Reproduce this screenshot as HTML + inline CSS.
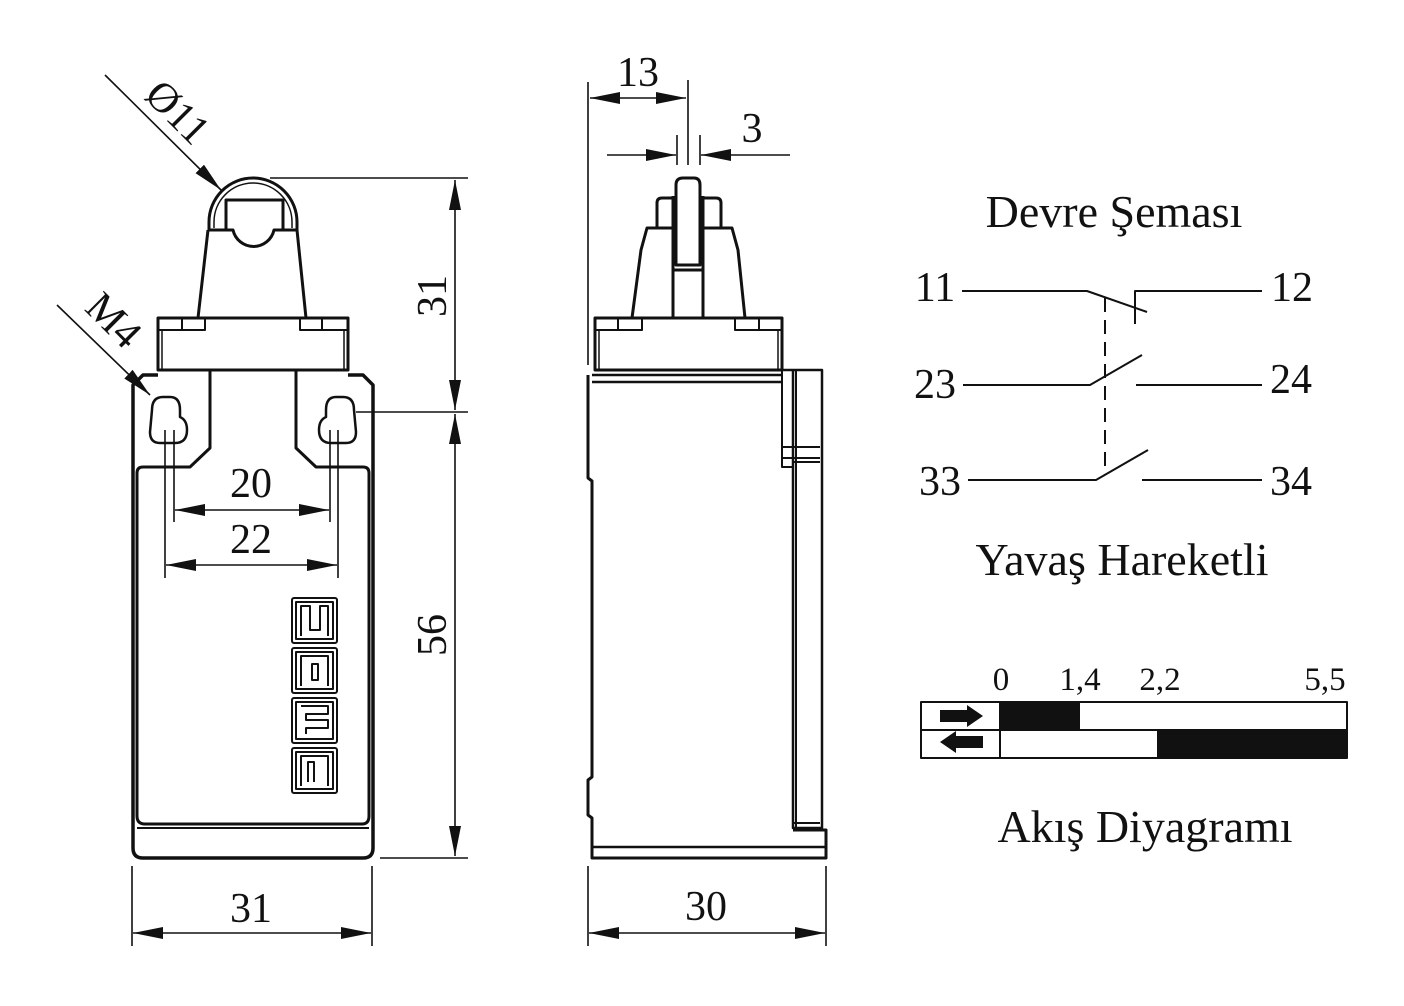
<!DOCTYPE html>
<html><head><meta charset="utf-8"><style>
html,body{margin:0;padding:0;background:#fff}
svg{display:block}
text{font-family:"Liberation Serif",serif;fill:#111}
</style></head><body>
<svg width="1404" height="1006" viewBox="0 0 1404 1006" xmlns="http://www.w3.org/2000/svg">
<defs>
<marker id="ar" viewBox="0 0 30 12" refX="30" refY="6" markerWidth="30" markerHeight="12" markerUnits="userSpaceOnUse" orient="auto-start-reverse">
<path d="M0,0 L30,6 L0,12 Z" fill="#111"/></marker>
</defs>
<g fill="none" stroke="#111" stroke-linejoin="round">
<g stroke-width="3">
<path d="M209,230 L209,222 A44,44 0 0 1 297,222 L297,230"/>
<path d="M214,228 L214,222 A39,39 0 0 1 292,222 L292,228" stroke-width="1.5"/>
<path d="M226,230 L226,200 L283,200 L283,230"/>
<path d="M208,230 L233,230 A21,21 0 0 0 274,230 L297,230"/>
<path d="M208,230 L198,318 M297,230 L306,318"/>
<rect x="158" y="318" width="190" height="52"/>
<path d="M158,330 L205,330 L205,318 M182,318 L182,330 M348,330 L300,330 L300,318 M322,318 L322,330" stroke-width="2"/>
<line x1="162" y1="330" x2="162" y2="370" stroke-width="1.5"/>
<line x1="344" y1="330" x2="344" y2="370" stroke-width="1.5"/>
<path d="M158,375 L143,375 L133,385 L133,848 Q133,858 143,858 L363,858 Q373,858 373,848 L373,385 L363,375 L348,375" stroke-width="3.5"/>
<path d="M210,370 L210,448 L190,467 L143,467 Q137,467 137,473 L137,816 Q137,824 145,824 L362,824 Q369,824 369,816 L369,473 Q369,467 363,467 L316,467 L296,448 L296,370" stroke-width="3"/>
<path d="M137,828 L369,828" stroke-width="2"/>
<path d="M152,410 Q152,397 163,397 L170,397 Q180,397 180,410 L180,417 Q187,420 187,430 Q187,443 175,443 L160,443 Q150,443 150,432 Z" stroke-width="2.5"/>
<path d="M354,410 Q354,397 343,397 L336,397 Q326,397 326,410 L326,417 Q319,420 319,430 Q319,443 331,443 L346,443 Q356,443 356,432 Z" stroke-width="2.5"/>
</g>
<g stroke-width="2">
<rect x="292" y="598" width="45" height="45" rx="2"/><rect x="296" y="602" width="37" height="37"/>
<path d="M301,636 L301,606 L310,606 L310,630 L320,630 L320,606 L328,606 L328,636" />
<rect x="292" y="648" width="45" height="45" rx="2"/><rect x="296" y="652" width="37" height="37"/>
<path d="M301,686 L301,656 L328,656 L328,686 M312,680 L312,664 L318,664 L318,680 Z"/>
<rect x="292" y="698" width="45" height="45" rx="2"/><rect x="296" y="702" width="37" height="37"/>
<path d="M301,706 L328,706 L328,714 L306,714 L306,720 L328,720 L328,728 L306,728 L306,734"/>
<rect x="292" y="748" width="45" height="45" rx="2"/><rect x="296" y="752" width="37" height="37"/>
<path d="M301,786 L301,756 L328,756 L328,786 M308,782 L308,762 L314,762 L314,782"/>
</g>
<g stroke-width="1.6">
<line x1="270" y1="178" x2="468" y2="178"/>
<line x1="356" y1="412" x2="468" y2="412"/>
<line x1="380" y1="858" x2="468" y2="858"/>
<line x1="455" y1="180" x2="455" y2="410" marker-start="url(#ar)" marker-end="url(#ar)"/>
<line x1="455" y1="414" x2="455" y2="856" marker-start="url(#ar)" marker-end="url(#ar)"/>
<line x1="165" y1="430" x2="165" y2="578"/><line x1="174" y1="430" x2="174" y2="522"/>
<line x1="330" y1="430" x2="330" y2="522"/><line x1="338" y1="430" x2="338" y2="578"/>
<line x1="175" y1="510" x2="329" y2="510" marker-start="url(#ar)" marker-end="url(#ar)"/>
<line x1="166" y1="565" x2="337" y2="565" marker-start="url(#ar)" marker-end="url(#ar)"/>
<line x1="132" y1="866" x2="132" y2="946"/><line x1="372" y1="866" x2="372" y2="946"/>
<line x1="133" y1="933" x2="371" y2="933" marker-start="url(#ar)" marker-end="url(#ar)"/>
<line x1="105" y1="75" x2="221" y2="190" marker-end="url(#ar)"/>
<line x1="57" y1="305" x2="150" y2="395" marker-end="url(#ar)"/>
</g>
<g stroke-width="3">
<path d="M676,265 L676,185 Q676,178 683,178 L694,178 Q700,178 700,185 L700,265 Z"/>
<path d="M673,318 L673,196 M703,318 L703,196 M673,270 L703,270"/>
<path d="M657,228 L657,203 Q657,198 662,198 L673,198 M703,198 L716,198 Q721,198 721,203 L721,228"/>
<path d="M673,228 L647,228 L641,250 L632,318 M703,228 L732,228 L738,250 L745,318"/>
<rect x="595" y="318" width="187" height="52"/>
<path d="M595,330 L642,330 L642,318 M618,318 L618,330 M782,330 L735,330 L735,318 M759,318 L759,330" stroke-width="2"/>
<line x1="599" y1="330" x2="599" y2="370" stroke-width="1.5"/><line x1="778" y1="330" x2="778" y2="370" stroke-width="1.5"/>
<path d="M592,375 L782,375 M592,382 L782,382" stroke-width="2.5"/>
<path d="M588,375 L588,478 L592,481 L592,777 L588,780 L588,815 L592,818 L592,858 L826,858 L826,830 L793,830"/>
<path d="M592,847 L826,847" stroke-width="2.5"/>
<path d="M782,370 L822,370 L822,828 L793,828 L793,370" stroke-width="2.5"/>
<path d="M782,370 L782,467 L793,467 M782,447 L820,447 M782,458 L820,458 M793,462 L820,462 M796,370 L796,828 M793,823 L820,823" stroke-width="2"/>
</g>
<g stroke-width="1.6">
<line x1="588" y1="82" x2="588" y2="365"/>
<line x1="688" y1="80" x2="688" y2="165"/>
<line x1="590" y1="98" x2="686" y2="98" marker-start="url(#ar)" marker-end="url(#ar)"/>
<line x1="677" y1="135" x2="677" y2="165"/><line x1="700" y1="135" x2="700" y2="165"/>
<line x1="607" y1="155" x2="676" y2="155" marker-end="url(#ar)"/>
<line x1="790" y1="155" x2="701" y2="155" marker-end="url(#ar)"/>
<line x1="588" y1="866" x2="588" y2="946"/><line x1="826" y1="866" x2="826" y2="946"/>
<line x1="589" y1="933" x2="825" y2="933" marker-start="url(#ar)" marker-end="url(#ar)"/>
</g>
<g stroke-width="2">
<path d="M962,291 L1087,291 L1147,312"/>
<path d="M1135,324 L1135,291 L1262,291"/>
<path d="M963,385 L1090,385 L1142,355 M1136,385 L1262,385"/>
<path d="M968,480 L1096,480 L1148,450 M1142,480 L1262,480"/>
<line x1="1105" y1="298" x2="1105" y2="475" stroke-dasharray="14,8"/>
</g>
<rect x="921" y="702" width="426" height="56" stroke-width="2"/>
<line x1="921" y1="730" x2="1347" y2="730" stroke-width="2"/>
<line x1="1000" y1="702" x2="1000" y2="758" stroke-width="2"/>
</g>
<rect x="1000" y="702" width="80" height="28" fill="#111"/>
<rect x="1157" y="730" width="190" height="28" fill="#111"/>
<path d="M940,710 L967,710 L967,705 L983,716 L967,727 L967,722 L940,722 Z" fill="#111"/>
<path d="M983,736 L956,736 L956,731 L940,742 L956,753 L956,748 L983,748 Z" fill="#111"/>
<g font-size="42">
<text transform="translate(168,122) rotate(45)" text-anchor="middle">Ø11</text>
<text transform="translate(104,330) rotate(45)" text-anchor="middle">M4</text>
<text transform="translate(446,296) rotate(-90)" text-anchor="middle">31</text>
<text transform="translate(446,635) rotate(-90)" text-anchor="middle">56</text>
<text x="251" y="497" text-anchor="middle">20</text>
<text x="251" y="553" text-anchor="middle">22</text>
<text x="251" y="922" text-anchor="middle">31</text>
<text x="706" y="920" text-anchor="middle">30</text>
<text x="638" y="86" text-anchor="middle">13</text>
<text x="752" y="142" text-anchor="middle">3</text>
<text x="935" y="301" text-anchor="middle">11</text>
<text x="1292" y="301" text-anchor="middle">12</text>
<text x="935" y="398" text-anchor="middle">23</text>
<text x="1291" y="393" text-anchor="middle">24</text>
<text x="940" y="495" text-anchor="middle">33</text>
<text x="1291" y="495" text-anchor="middle">34</text>
</g>
<g font-size="46">
<text x="1114" y="227" text-anchor="middle">Devre Şeması</text>
<text x="1122" y="575" text-anchor="middle">Yavaş Hareketli</text>
<text x="1145" y="842" text-anchor="middle">Akış Diyagramı</text>
</g>
<g font-size="33">
<text x="1001" y="690" text-anchor="middle">0</text>
<text x="1080" y="690" text-anchor="middle">1,4</text>
<text x="1160" y="690" text-anchor="middle">2,2</text>
<text x="1325" y="690" text-anchor="middle">5,5</text>
</g>
</svg>
</body></html>
